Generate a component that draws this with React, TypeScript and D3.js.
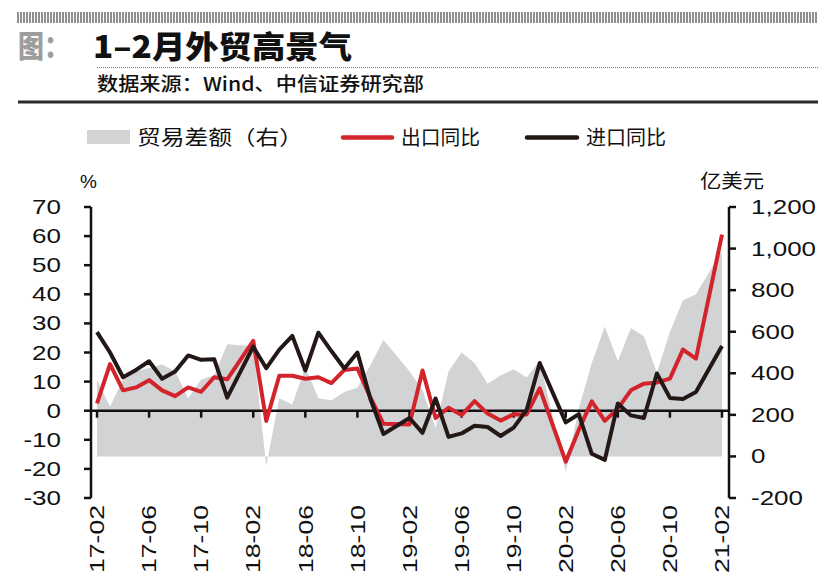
import React from "react";
import * as d3 from "d3";

const months: string[] = [
  "17-02","17-03","17-04","17-05","17-06","17-07","17-08","17-09","17-10","17-11","17-12",
  "18-01","18-02","18-03","18-04","18-05","18-06","18-07","18-08","18-09","18-10","18-11","18-12",
  "19-01","19-02","19-03","19-04","19-05","19-06","19-07","19-08","19-09","19-10","19-11","19-12",
  "20-01","20-02","20-03","20-04","20-05","20-06","20-07","20-08","20-09","20-10","20-11","20-12",
  "21-01","21-02",
];

const tickMonths: string[] = [
  "17-02","17-06","17-10","18-02","18-06","18-10","19-02","19-06","19-10","20-02","20-06","20-10","21-02",
];

// 出口同比 (%)
const exportYoY: (number | null)[] = [
  2.5, 16, 7, 8, 10.5, 7, 5, 8, 6.5, 11.5, 10.8,
  null, 24, -3.5, 12, 12, 11, 11.5, 9.5, 14, 14.5, 4.5, -4.5,
  null, -4.7, 13.8, -2.5, 1, -1.5, 3.3, -1, -3.4, -1.2, -1.3, 7.7,
  null, -17.5, -6.6, 3.2, -3.5, 0.7, 7, 9.3, 9.7, 11, 21, 17.9,
  null, 60.5,
];

// 进口同比 (%)
const importYoY: (number | null)[] = [
  27, 20, 11.5, 14, 17, 11, 13.5, 19, 17.5, 17.7, 4.5,
  null, 22, 14.6, 21, 25.7, 13.8, 26.8, 20.5, 14.5, 20, 4, -8,
  null, -2.5, -7.6, 4.2, -9, -7.8, -5.2, -5.6, -8.7, -5.8, 0.3, 16.4,
  null, -4, -1.2, -14.8, -16.9, 2.5, -1.6, -2.5, 12.8, 4.4, 4, 6.4,
  null, 22.2,
];

// 贸易差额 (亿美元, 右轴)
const tradeBalance: (number | null)[] = [
  370, 240, 370, 410, 426, 442, 410, 280, 370, 390, 540,
  null, 530, -46, 280, 250, 430, 280, 270, 310, 330, 440, 560,
  null, 410, 320, 138, 410, 500, 450, 350, 390, 420, 380, 460,
  null, -75, 230, 450, 625, 458, 618, 578, 402, 600, 750, 780,
  null, 990,
];

const leftTicks: number[] = [70, 60, 50, 40, 30, 20, 10, 0, -10, -20, -30];
const rightTicks: number[] = [1200, 1000, 800, 600, 400, 200, 0, -200];

const RED = "#d3232b";
const BLACK = "#231815";
const GRAY = "#d1d3d4";
const NUMFONT = "'Liberation Sans', Arial, sans-serif";
const CJK = "'Noto Sans CJK SC', 'Noto Sans', sans-serif";

const fmtR = (v: number) => d3.format(",")(v).replace("\u2212", "-");

export default function App() {
  const W = 837, H = 588;
  const axL = 91, axR = 729;
  const x = d3.scalePoint<string>().domain(months).range([97, 722]);
  const yL = d3.scaleLinear().domain([-30, 70]).range([498, 207]);
  const yR = d3.scaleLinear().domain([-200, 1200]).range([498, 207]);

  const pts = (arr: (number | null)[]) =>
    months.map((m, i) => ({ m, v: arr[i] })).filter((d) => d.v !== null) as { m: string; v: number }[];

  const lineL = d3.line<{ m: string; v: number }>().x((d) => x(d.m)!).y((d) => yL(d.v));
  const area = d3
    .area<{ m: string; v: number }>()
    .x((d) => x(d.m)!)
    .y0(yR(0))
    .y1((d) => yR(d.v));

  const hatch = d3.range(18, 819, 3);

  return (
    <svg width={W} height={H} style={{ position: "absolute", left: 0, top: 0, background: "#fff" }}>
      <rect width={W} height={H} fill="#fff" />
      {/* header hatch */}
      {hatch.map((hx) => (
        <line key={hx} x1={hx} x2={hx} y1={12} y2={23} stroke="#444" strokeWidth={1.2} />
      ))}
      <text x={18} y={57} fontFamily={CJK} fontWeight={900} fontSize={30} fill="#9d9d9d" textLength={52} lengthAdjust="spacingAndGlyphs">
        图：
      </text>
      <text x={93} y={58} fontFamily={CJK} fontWeight={900} fontSize={31} fill="#111" textLength={259} lengthAdjust="spacingAndGlyphs">
        1–2月外贸高景气
      </text>
      <line x1={97} x2={818} y1={67.5} y2={67.5} stroke="#777" strokeWidth={1} strokeDasharray="1,1" />
      <text x={97} y={91} fontFamily={CJK} fontWeight={500} fontSize={19} fill="#111" textLength={327} lengthAdjust="spacingAndGlyphs">
        数据来源：Wind、中信证券研究部
      </text>
      <line x1={18} x2={818} y1={102} y2={102} stroke="#2a2a2a" strokeWidth={3} />

      {/* legend */}
      <rect x={87} y={130} width={43} height={14} fill={GRAY} />
      <text x={137} y={145} fontFamily={CJK} fontSize={20} fill="#111" textLength={166} lengthAdjust="spacingAndGlyphs">
        贸易差额（右）
      </text>
      <line x1={343} x2={392} y1={137.5} y2={137.5} stroke={RED} strokeWidth={4.5} strokeLinecap="round" />
      <text x={401} y={145} fontFamily={CJK} fontSize={20} fill="#111" textLength={79} lengthAdjust="spacingAndGlyphs">
        出口同比
      </text>
      <line x1={527} x2={577} y1={137.5} y2={137.5} stroke={BLACK} strokeWidth={4.5} strokeLinecap="round" />
      <text x={586} y={145} fontFamily={CJK} fontSize={20} fill="#111" textLength={80} lengthAdjust="spacingAndGlyphs">
        进口同比
      </text>

      <text x={80} y={188} fontFamily={NUMFONT} fontSize={19} fill="#111">
        %
      </text>
      <text x={700} y={188} fontFamily={CJK} fontSize={19} fill="#111" textLength={64} lengthAdjust="spacingAndGlyphs">
        亿美元
      </text>

      {/* trade balance area */}
      <path d={area(pts(tradeBalance)) ?? ""} fill={GRAY} />

      {/* left axis */}
      <line x1={axL} x2={axL} y1={yL(70)} y2={yL(-30)} stroke="#111" strokeWidth={2.5} />
      {leftTicks.map((t) => (
        <g key={"l" + t}>
          <line x1={axL - 7} x2={axL} y1={yL(t)} y2={yL(t)} stroke="#111" strokeWidth={2.5} />
          <text
            transform={`translate(${axL - 30},${yL(t) + 7}) scale(1.3,1)`}
            textAnchor="end"
            fontFamily={NUMFONT}
            fontSize={20}
            fill="#111"
          >
            {String(t)}
          </text>
        </g>
      ))}

      {/* right axis */}
      <line x1={axR} x2={axR} y1={yR(1200)} y2={yR(-200)} stroke="#111" strokeWidth={2.5} />
      {rightTicks.map((t) => (
        <g key={"r" + t}>
          <line x1={axR} x2={axR + 7} y1={yR(t)} y2={yR(t)} stroke="#111" strokeWidth={2.5} />
          <text
            transform={`translate(${axR + 22},${yR(t) + 7}) scale(1.3,1)`}
            textAnchor="start"
            fontFamily={NUMFONT}
            fontSize={20}
            fill="#111"
          >
            {fmtR(t)}
          </text>
        </g>
      ))}

      {/* x axis at left 0 */}
      <line x1={axL} x2={axR} y1={yL(0)} y2={yL(0)} stroke="#111" strokeWidth={2.5} />
      {tickMonths.map((m) => (
        <g key={m}>
          <line x1={x(m)!} x2={x(m)!} y1={yL(0)} y2={yL(0) + 7} stroke="#111" strokeWidth={2.5} />
          <text
            transform={`translate(${x(m)!},505) rotate(-90) scale(1.33,1)`}
            textAnchor="end"
            dy="0.36em"
            fontFamily={NUMFONT}
            fontSize={20}
            fill="#111"
          >
            {m}
          </text>
        </g>
      ))}

      {/* lines */}
      <path d={lineL(pts(exportYoY)) ?? ""} fill="none" stroke={RED} strokeWidth={4} strokeLinejoin="round" />
      <path d={lineL(pts(importYoY)) ?? ""} fill="none" stroke={BLACK} strokeWidth={4} strokeLinejoin="round" />
    </svg>
  );
}
